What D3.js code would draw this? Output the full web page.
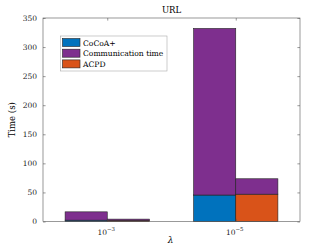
<!DOCTYPE html>
<html>
<head>
<meta charset="utf-8">
<script src="https://cdn.jsdelivr.net/npm/d3@7"></script>
<style>
  body { margin: 0; background: #fff; }
  svg text { font-family: 'DejaVu Serif', 'Liberation Serif', serif; }
</style>
</head>
<body>
<svg id="chart"></svg>
<script>
// data
const lambdas = ['−3', '−5'] // exponents of 10
const cocoaTime = [2.3, 45.5]
const cocoaComm = [14.3, 286.5]
const acpdTime = [1.8, 47]
const acpdComm = [2.3, 26.5]
const yTicks = [0, 50, 100, 150, 200, 250, 300, 350]
const legendNames = ['CoCoA+', 'Communication time', 'ACPD']
const colors = ['#0072BD', '#7E2F8E', '#D95319']

const width = 332
const height = 249
const margin = { top: 18, right: 32, bottom: 27.5, left: 43 }
const innerW = width - margin.left - margin.right
const innerH = height - margin.top - margin.bottom
const axisColor = '#555'
const font = "'DejaVu Serif', 'Liberation Serif', serif"

const svg = d3.select('#chart').attr('width', width).attr('height', height)

const x = d3.scaleLinear().domain([0.5, lambdas.length + 0.5]).range([0, innerW])
const y = d3.scaleLinear().domain([0, 350]).range([innerH, 0])
const barW = 0.328

const g = svg.append('g').attr('transform', `translate(${margin.left},${margin.top})`)

// stacked segments
const segs = []
lambdas.forEach((l, i) => {
  segs.push({ i, side: -1, y0: 0, y1: cocoaTime[i], c: colors[0] })
  segs.push({ i, side: -1, y0: cocoaTime[i], y1: cocoaTime[i] + cocoaComm[i], c: colors[1] })
  segs.push({ i, side: 0, y0: 0, y1: acpdTime[i], c: colors[2] })
  segs.push({ i, side: 0, y0: acpdTime[i], y1: acpdTime[i] + acpdComm[i], c: colors[1] })
})

g.selectAll('rect.bar')
  .data(segs)
  .join('rect')
  .attr('class', 'bar')
  .attr('x', (d) => x(d.i + 1 + d.side * barW))
  .attr('width', x(barW) - x(0))
  .attr('y', (d) => y(d.y1))
  .attr('height', (d) => y(d.y0) - y(d.y1))
  .attr('fill', (d) => d.c)
  .attr('stroke', '#222')
  .attr('stroke-width', 0.6)

// axes (box with inward ticks)
const tickLen = 2.6
const yAxis = d3.axisLeft(y).tickValues(yTicks).tickSize(-tickLen).tickPadding(6)
const yAxisR = d3.axisRight(y).tickValues(yTicks).tickSize(-tickLen).tickFormat('')
const xTicks = lambdas.map((l, i) => i + 1)
const xAxis = d3.axisBottom(x).tickValues(xTicks).tickSize(-tickLen).tickFormat('')
const xAxisT = d3.axisTop(x).tickValues(xTicks).tickSize(-tickLen).tickFormat('')

function style(sel) {
  sel.attr('font-family', font).attr('font-size', 7.5)
  sel.selectAll('.tick line').attr('stroke', axisColor).attr('stroke-width', 0.6)
  sel.selectAll('.tick text').attr('fill', '#262626')
}

g.append('g').call(yAxis).call(style)
g.append('g').attr('transform', `translate(${innerW},0)`).call(yAxisR).call(style)
g.append('g').attr('transform', `translate(0,${innerH})`).call(xAxis).call(style)
g.append('g').call(xAxisT).call(style)
g.selectAll('.domain').remove()
g.append('rect').attr('width', innerW).attr('height', innerH)
  .attr('fill', 'none').attr('stroke', axisColor).attr('stroke-width', 0.6)

// x tick labels 10^-k
lambdas.forEach((l, i) => {
  const t = g.append('text')
    .attr('x', x(i + 1) - 1)
    .attr('y', innerH + 13.5)
    .attr('text-anchor', 'middle')
    .attr('fill', '#262626')
    .attr('font-size', 7.5)
  t.append('tspan').text('10')
  t.append('tspan').attr('dy', -3.6).attr('font-size', 5.5).text(l)
})

// title and labels
svg.append('text')
  .attr('x', margin.left + innerW / 2)
  .attr('y', 13)
  .attr('text-anchor', 'middle')
  .attr('font-size', 8.5)
  .attr('fill', '#000')
  .text('URL')

svg.append('text')
  .attr('x', margin.left + innerW / 2 - 1)
  .attr('y', 243)
  .attr('text-anchor', 'middle')
  .attr('font-size', 9)
  .attr('font-style', 'italic')
  .text('λ')

svg.append('text')
  .attr('transform', `translate(15,${margin.top + innerH / 2}) rotate(-90)`)
  .attr('text-anchor', 'middle')
  .attr('font-size', 8.5)
  .text('Time (s)')

// legend
const lg = svg.append('g').attr('transform', 'translate(60.5,36)')
lg.append('rect').attr('width', 106.5).attr('height', 35)
  .attr('fill', '#fff').attr('stroke', '#aaa').attr('stroke-width', 0.6)
legendNames.forEach((n, i) => {
  const row = lg.append('g').attr('transform', `translate(2,${2.5 + i * 10.7})`)
  row.append('rect').attr('width', 17.5).attr('height', 8)
    .attr('fill', colors[i]).attr('stroke', '#222').attr('stroke-width', 0.6)
  row.append('text').attr('x', 20.5).attr('y', 7)
    .attr('font-size', 7.6).attr('fill', '#000').text(n)
})
</script>
</body>
</html>
